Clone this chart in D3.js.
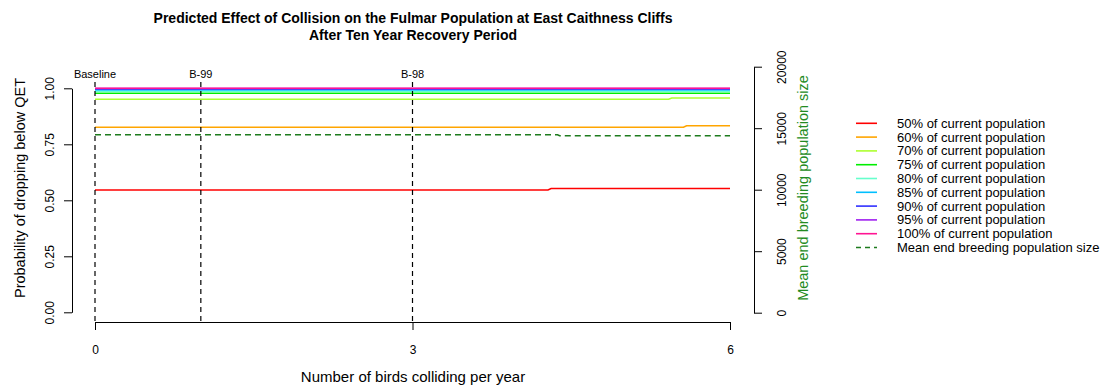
<!DOCTYPE html>
<html>
<head>
<meta charset="utf-8">
<script src="https://cdn.jsdelivr.net/npm/d3@7"></script>
<style>
  html, body { margin: 0; padding: 0; background: #fff; }
  svg { display: block; font-family: "Liberation Sans", Arial, sans-serif; }
</style>
</head>
<body>
<svg id="chart" width="1102" height="387"></svg>
<script>
// ---- Data ----
const xTicks = [0, 3, 6];
const yLeftTicks = [0, 0.25, 0.5, 0.75, 1.0];
const yRightTicks = [0, 5000, 10000, 15000, 20000];

const scenarioX = [0, 1, 3];
const scenarioLabels = ["Baseline", "B-99", "B-98"];

const seriesLabels = [
  "50% of current population",
  "60% of current population",
  "70% of current population",
  "75% of current population",
  "80% of current population",
  "85% of current population",
  "90% of current population",
  "95% of current population",
  "100% of current population"
];
const seriesColors = ["#FF0000", "#FFA500", "#ADFF2F", "#00EE00", "#66FFCC", "#00BFFF", "#3030FF", "#A020F0", "#FF1493"];

// probability of dropping below QET: [collisions, probability]
const p50  = [[0, 0.546], [4.28, 0.546], [4.31, 0.553], [6, 0.553]];
const p60  = [[0, 0.826], [5.56, 0.826], [5.59, 0.833], [6, 0.833]];
const p70  = [[0, 0.951], [5.42, 0.951], [5.45, 0.957], [6, 0.957]];
const p75  = [[0, 0.978], [6, 0.978]];
const p80  = [[0, 0.986], [6, 0.986]];
const p85  = [[0, 0.993], [6, 0.993]];
const p90  = [[0, 0.997], [6, 0.997]];
const p95  = [[0, 0.999], [6, 0.999]];
const p100 = [[0, 1.000], [6, 1.000]];
const seriesValues = [p50, p60, p70, p75, p80, p85, p90, p95, p100];

// mean end breeding population size: [collisions, population]
const meanPop = [[0, 14470], [4.37, 14470], [4.39, 14390], [6, 14390]];
const meanPopLabel = "Mean end breeding population size";

// ---- Layout ----
const svg = d3.select("#chart");
const x = d3.scaleLinear().domain([0, 6]).range([95, 730]);
const yL = d3.scaleLinear().domain([0, 1]).range([312.3, 88.3]);
const yR = d3.scaleLinear().domain([0, 20000]).range([312.7, 66.7]);
const xAxisY = 322;
const leftAxisX = 72;
const rightAxisX = 754;
const popGreen = "#1E7B1E";
const titleGreen = "#228B22";

// Title
const title = svg.append("text")
  .attr("x", 413).attr("y", 23)
  .attr("text-anchor", "middle")
  .attr("font-size", 14).attr("font-weight", "bold").attr("fill", "#000");
title.append("tspan").attr("x", 413).attr("dy", 0).text("Predicted Effect of Collision on the Fulmar Population at East Caithness Cliffs");
title.append("tspan").attr("x", 413).attr("dy", 17).text("After Ten Year Recovery Period");

// Series lines
const line = d3.line().x(d => x(d[0])).y(d => yL(d[1]));
seriesValues.forEach((vals, i) => {
  svg.append("path")
    .attr("d", line(vals))
    .attr("fill", "none")
    .attr("stroke", seriesColors[i])
    .attr("stroke-width", 1.6);
});

// Mean population (right axis)
const popLine = d3.line().x(d => x(d[0])).y(d => yR(d[1]));
svg.append("path")
  .attr("d", popLine(meanPop))
  .attr("fill", "none")
  .attr("stroke", popGreen)
  .attr("stroke-width", 1.5)
  .attr("stroke-dasharray", "6,4");

// Scenario vertical dashed lines
scenarioX.forEach((v, i) => {
  svg.append("line")
    .attr("x1", x(v)).attr("x2", x(v))
    .attr("y1", 82).attr("y2", xAxisY)
    .attr("stroke", "#000").attr("stroke-width", 1.2)
    .attr("stroke-dasharray", "5,4");
  svg.append("text")
    .attr("x", x(v)).attr("y", 78)
    .attr("text-anchor", "middle")
    .attr("font-size", 11)
    .text(scenarioLabels[i]);
});

// X axis
const xAxis = svg.append("g")
  .attr("transform", `translate(0,${xAxisY})`)
  .call(d3.axisBottom(x).tickValues(xTicks).tickSize(8).tickSizeOuter(0).tickPadding(15).tickFormat(d3.format("d")));
xAxis.selectAll("text").attr("font-size", 12).attr("font-family", "Liberation Sans, Arial, sans-serif").attr("fill", "#000");
xAxis.selectAll("path, line").attr("stroke", "#000");

svg.append("text")
  .attr("x", 413).attr("y", 382)
  .attr("text-anchor", "middle")
  .attr("font-size", 15)
  .text("Number of birds colliding per year");

// Left axis
const lAxis = svg.append("g")
  .attr("transform", `translate(${leftAxisX},0)`)
  .call(d3.axisLeft(yL).tickValues(yLeftTicks).tickSize(8).tickSizeOuter(0).tickFormat(d3.format(".2f")));
lAxis.selectAll("path, line").attr("stroke", "#000");
lAxis.selectAll("text")
  .attr("x", null).attr("dy", null)
  .attr("text-anchor", "middle")
  .attr("font-size", 12).attr("font-family", "Liberation Sans, Arial, sans-serif").attr("fill", "#000")
  .attr("transform", "translate(-18,0) rotate(-90)");

svg.append("text")
  .attr("transform", "translate(25,188) rotate(-90)")
  .attr("text-anchor", "middle")
  .attr("font-size", 14.5)
  .text("Probability of dropping below QET");

// Right axis
const rAxis = svg.append("g")
  .attr("transform", `translate(${rightAxisX},0)`)
  .call(d3.axisRight(yR).tickValues(yRightTicks).tickSize(8).tickSizeOuter(0).tickFormat(d3.format("d")));
rAxis.selectAll("path, line").attr("stroke", "#000");
rAxis.selectAll("text")
  .attr("x", null).attr("dy", null)
  .attr("text-anchor", "middle")
  .attr("font-size", 12).attr("font-family", "Liberation Sans, Arial, sans-serif").attr("fill", "#000")
  .attr("transform", "translate(32,0) rotate(-90)");

svg.append("text")
  .attr("transform", "translate(808,188) rotate(-90)")
  .attr("text-anchor", "middle")
  .attr("font-size", 14.5)
  .attr("fill", titleGreen)
  .text(meanPopLabel);

// Legend
const legendLabels = seriesLabels.concat([meanPopLabel]);
const legendColors = seriesColors.concat([popGreen]);
legendLabels.forEach((lab, i) => {
  const ly = 123.3 + i * 13.8;
  svg.append("line")
    .attr("x1", 856).attr("x2", 877)
    .attr("y1", ly).attr("y2", ly)
    .attr("stroke", legendColors[i])
    .attr("stroke-width", i === 9 ? 1.5 : 1.6)
    .attr("stroke-dasharray", i === 9 ? "5,4" : null);
  svg.append("text")
    .attr("x", 897).attr("y", ly)
    .attr("dy", "0.35em")
    .attr("font-size", 13)
    .text(lab);
});
</script>
</body>
</html>
